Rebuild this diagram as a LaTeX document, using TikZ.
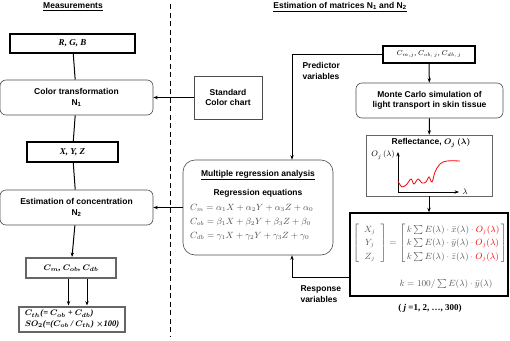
\documentclass[tikz,border=0pt]{standalone}
\usepackage{amsmath}
\usepackage{fontspec}
\setmainfont{Liberation Serif}
\setsansfont{Liberation Sans}
\usetikzlibrary{arrows.meta,positioning,calc}

\begin{document}
\begin{tikzpicture}[x=1pt,y=-1pt,
  font=\sffamily\bfseries\fontsize{8.5}{10.5}\selectfont,
  >={Stealth[length=4.5pt,width=3.4pt]},
  varbox/.style={draw,line width=1.4pt,inner sep=0pt,font=\rmfamily\bfseries\itshape\fontsize{9}{11}\selectfont},
  procbox/.style={draw=black!70,rounded corners=6pt,line width=0.6pt,align=center,inner sep=0pt},
  outbox/.style={draw=black!60,line width=2pt,inner sep=0pt,font=\rmfamily\bfseries\itshape\boldmath\fontsize{8.5}{10.5}\selectfont},
  eqn/.style={text=black!70,font=\rmfamily\fontsize{8.8}{10}\selectfont,inner sep=0pt},
  flow/.style={line width=1pt}]
\useasboundingbox (0,0) rectangle (510,340);
% column titles and divider
\node (meas) at (73,7) {\underline{Measurements}};
\node (estm) at (340,7) {\underline{Estimation of matrices N\textsubscript{1} and N\textsubscript{2}}};
\draw[line width=1pt,dash pattern=on 5pt off 3.5pt] (170,4) -- (170,337);

% left column
\node[varbox,minimum width=125pt,minimum height=19pt] (rgb) at (72.5,43.5) {R, G, B};
\node[procbox,minimum width=153pt,minimum height=35pt] (colt) at (76.5,97.5) {Color transformation\\N\textsubscript{1}};
\node[varbox,minimum width=91pt,minimum height=20pt] (xyz) at (72.5,152) {X, Y, Z};
\node[procbox,minimum width=153pt,minimum height=35pt] (estc) at (76.5,207.5) {Estimation of concentration\\N\textsubscript{2}};
\node[outbox,minimum width=90pt,minimum height=20pt] (conc) at (71,268) {$C_m$, $C_{ob}$, $C_{db}$};
\node[outbox,minimum width=106pt,minimum height=25pt,align=left] (res) at (72,319)
  {$C_{th}$(= $C_{ob}$ + $C_{db}$)\\$SO_2$(=($C_{ob}$ / $C_{th}$) $\times$100)};
\draw[flow] (rgb) -- (colt);
\draw[flow] (colt) -- (xyz);
\draw[flow] (xyz) -- (estc);
\draw[flow,->] (estc) -- (conc);
\draw[flow,->] ([xshift=-2.5pt]conc.south) -- ([xshift=-2.5pt]conc.south |- res.north);
\draw[flow,->] ([xshift=16pt]conc.south) -- ([xshift=16pt]conc.south |- res.north);

% right column
\node[draw=black!70,line width=0.6pt,minimum width=68pt,minimum height=43pt,align=center,inner sep=0pt] (chart) at (228,97.5) {Standard\\Color chart};
\draw[flow,->] (chart) -- (colt);

\node[varbox,minimum width=92pt,minimum height=17pt,font=\rmfamily\fontsize{7.5}{9}\selectfont] (cj) at (429,54.5) {$C_{m,j}$, $C_{ob,\,j}$, $C_{db,\,j}$};
\node[procbox,minimum width=147pt,minimum height=35pt] (mc) at (429.5,100.5) {Monte Carlo simulation of\\light transport in skin tissue};
\node[draw=black!60,line width=0.6pt,minimum width=126pt,minimum height=61pt,inner sep=0pt] (refl) at (429,165.5) {};
\node (reflt) at (431,143) {Reflectance, {\rmfamily\itshape\boldmath$O_j\,(\lambda)$}};
\coordinate (orig) at (398,192);
\draw[flow,->,line width=0.8pt] (orig) -- (398,152);
\draw[flow,->,line width=0.8pt] (orig) -- (459,192);
\node[eqn,text=black,font=\rmfamily\fontsize{8}{9}\selectfont] (oj) at (383,155) {$O_j\,(\lambda)$};
\node[eqn,text=black,font=\rmfamily\fontsize{8}{9}\selectfont] (lam) at (465,192) {$\lambda$};
\draw[red,line width=0.8pt] plot[smooth,tension=0.6] coordinates {(398,181) (402,187) (407,184) (411,179) (414,184) (418,179) (422,183) (426,182) (429,177) (432,182) (435,172) (440,164) (447,161) (460,161)};

\node[draw,line width=1.4pt,minimum width=158pt,minimum height=83pt,inner sep=0pt] (xyzf) at (429,254.5) {};
\node[eqn,text=black!65,font=\rmfamily\fontsize{9}{13.5}\selectfont] (mat) at (430,243)
  {$\left[\begin{array}{c}X_j\\Y_j\\Z_j\end{array}\right]=\left[\begin{array}{@{\,}l@{\,}}
   k\sum E(\lambda)\cdot\bar{x}(\lambda)\cdot\textcolor{red}{O_j(\lambda)}\\
   k\sum E(\lambda)\cdot\bar{y}(\lambda)\cdot\textcolor{red}{O_j(\lambda)}\\
   k\sum E(\lambda)\cdot\bar{z}(\lambda)\cdot\textcolor{red}{O_j(\lambda)}\end{array}\right]$};
\node[eqn,text=black!65,font=\rmfamily\fontsize{9}{11}\selectfont] (kdef) at (446,284) {$k=100/\sum E(\lambda)\cdot\bar{y}(\lambda)$};
\node[font=\rmfamily\bfseries\fontsize{9}{11}\selectfont] (jrange) at (430,308) {( \textit{j} =1, 2, \dots, 300)};

\draw[flow,->] (cj) -- (mc);
\draw[flow,->] (mc) -- (refl);
\draw[flow,->] (refl) -- (xyzf);

% regression box
\node[procbox,rounded corners=12pt,minimum width=150pt,minimum height=95pt] (reg) at (258,207.5) {};
\node (regt) at (258,175) {\underline{Multiple regression analysis}};
\node (regs) at (258,193) {Regression equations};
\node[eqn,anchor=west] (eqm) at (190,208) {$C_m=\alpha_1X+\alpha_2Y+\alpha_3Z+\alpha_0$};
\node[eqn,anchor=west] (eqo) at (190,222) {$C_{ob}=\beta_1X+\beta_2Y+\beta_3Z+\beta_0$};
\node[eqn,anchor=west] (eqd) at (190,236) {$C_{db}=\gamma_1X+\gamma_2Y+\gamma_3Z+\gamma_0$};
\draw[flow,->] (reg.west) -- (reg.west -| estc.east);

\coordinate (bend) at (292,0);
\coordinate (rv) at (350,277);
\draw[flow,->] (cj.west) -| (bend |- reg.north);
\draw[flow,->] (rv) -| (bend |- reg.south);
\node[anchor=west,align=left] (pvar) at (299,71) {Predictor\\variables};
\node[anchor=west,align=left] (rvar) at (297,294) {Response\\variables};
\end{tikzpicture}
\end{document}
